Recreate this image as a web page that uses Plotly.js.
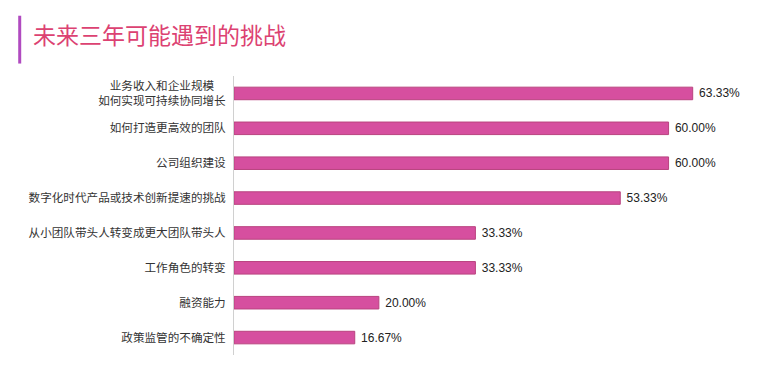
<!DOCTYPE html>
<html>
<head>
<meta charset="utf-8">
<script src="https://cdn.plot.ly/plotly-3.0.1.min.js"></script>
<style>html,body{margin:0;padding:0;background:#fff;}#chart{width:779px;height:375px;}</style>
</head>
<body>
<div id="chart"></div>
<script>
const categories = [
  "业务收入和企业规模　<br>如何实现可持续协同增长",
  "如何打造更高效的团队",
  "公司组织建设",
  "数字化时代产品或技术创新提速的挑战",
  "从小团队带头人转变成更大团队带头人",
  "工作角色的转变",
  "融资能力",
  "政策监管的不确定性"
];
const values = [63.33, 60.00, 60.00, 53.33, 33.33, 33.33, 20.00, 16.67];
const valueLabels = ["63.33%", "60.00%", "60.00%", "53.33%", "33.33%", "33.33%", "20.00%", "16.67%"];
const titleText = "未来三年可能遇到的挑战";

const trace = {
  type: 'bar',
  orientation: 'h',
  y: categories,
  x: values,
  text: valueLabels,
  texttemplate: '\u00a0%{text}',
  textposition: 'outside',
  constraintext: 'none',
  cliponaxis: false,
  textfont: {family: 'Liberation Sans, Arial, sans-serif', size: 12, color: '#222'},
  marker: {color: '#d64f9f', line: {color: '#b9437f', width: 1}},
  width: 0.36,
  hoverinfo: 'none'
};

const layout = {
  width: 779, height: 375,
  margin: {l: 234, r: 37.5, t: 75.5, b: 19.5},
  paper_bgcolor: '#fff', plot_bgcolor: '#fff',
  showlegend: false,
  title: {
    text: titleText,
    font: {family: 'Noto Sans CJK SC, sans-serif', size: 23, color: '#dc4272'},
    x: 33/779, xanchor: 'left', xref: 'container',
    y: 1 - 36/375, yanchor: 'middle', yref: 'container'
  },
  xaxis: {range: [0, 70], showgrid: false, zeroline: false, showticklabels: false, showline: false, fixedrange: true},
  yaxis: {
    autorange: 'reversed', showgrid: false, zeroline: false,
    showline: true, linecolor: '#d0d0d0', linewidth: 1,
    ticks: '', ticklabelstandoff: 5,
    tickfont: {family: 'Noto Sans CJK SC, sans-serif', size: 11.6, color: '#333'}
  },
  shapes: [{
    type: 'rect', xref: 'paper', yref: 'paper',
    x0: (18 - 234)/507.5, x1: (21 - 234)/507.5,
    y0: (355.5 - 63)/280, y1: (355.5 - 15)/280,
    fillcolor: '#b04ac0', line: {width: 0}
  }]
};

Plotly.newPlot('chart', [trace], layout, {displayModeBar: false, staticPlot: true});
</script>
</body>
</html>
